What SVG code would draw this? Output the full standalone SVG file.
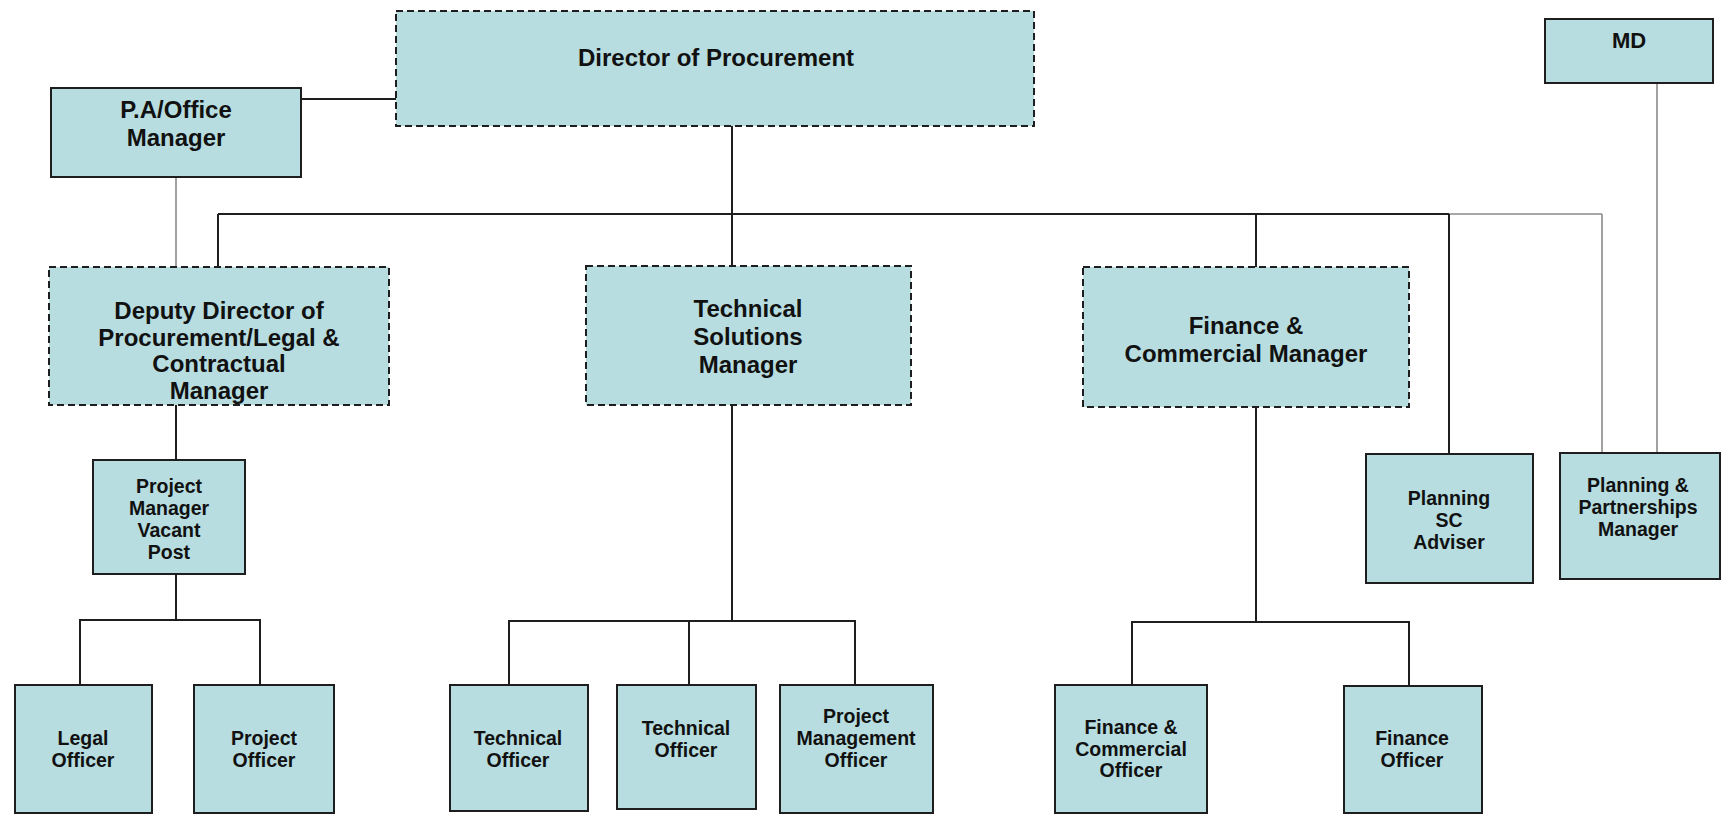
<svg xmlns="http://www.w3.org/2000/svg" width="1727" height="818" viewBox="0 0 1727 818">
<style>
.box{fill:#b7dde0;stroke:#1e1e1e;stroke-width:2}
.dash{stroke-dasharray:7 4}
.ln{stroke:#1e1e1e;stroke-width:2;fill:none}
.gl{stroke:#8a8a8a;stroke-width:1.6;fill:none}
text{font-family:"Liberation Sans",Arial,sans-serif;font-weight:bold;fill:#111;text-anchor:middle}
.big{font-size:24px}
.sm{font-size:19.5px}
</style>
<rect width="1727" height="818" fill="#ffffff"/>
<g id="connectors">
<line class="ln" x1="301" y1="99" x2="396" y2="99"/>
<line class="ln" x1="732" y1="126" x2="732" y2="266"/>
<line class="ln" x1="218" y1="214" x2="1449" y2="214"/>
<line class="gl" x1="1449" y1="214" x2="1602" y2="214"/>
<line class="gl" x1="1602" y1="214" x2="1602" y2="453"/>
<line class="ln" x1="218" y1="214" x2="218" y2="267"/>
<line class="ln" x1="1256" y1="214" x2="1256" y2="267"/>
<line class="ln" x1="1449" y1="214" x2="1449" y2="454"/>
<line class="gl" x1="176" y1="177" x2="176" y2="267"/>
<line class="gl" x1="1657" y1="83" x2="1657" y2="453"/>
<line class="ln" x1="176" y1="405" x2="176" y2="460"/>
<line class="ln" x1="176" y1="574" x2="176" y2="620"/>
<polyline class="ln" points="80,685 80,620 260,620 260,685"/>
<line class="ln" x1="732" y1="405" x2="732" y2="621"/>
<polyline class="ln" points="509,685 509,621 855,621 855,685"/>
<line class="ln" x1="689" y1="621" x2="689" y2="685"/>
<line class="ln" x1="1256" y1="407" x2="1256" y2="622"/>
<polyline class="ln" points="1132,685 1132,622 1409,622 1409,686"/>
</g>
<g id="director">
<rect class="box dash" x="396" y="11" width="638" height="115"/>
<text class="big" x="716" y="66">Director of Procurement</text>
</g>
<g id="md">
<rect class="box" x="1545" y="19" width="168" height="64"/>
<text class="big" x="1629" y="48" style="font-size:22px">MD</text>
</g>
<g id="pa">
<rect class="box" x="51" y="88" width="250" height="89"/>
<text class="big" x="176" y="118">P.A/Office</text>
<text class="big" x="176" y="146">Manager</text>
</g>
<g id="deputy">
<rect class="box dash" x="49" y="267" width="340" height="138"/>
<text class="big" x="219" y="319">Deputy Director of</text>
<text class="big" x="219" y="346">Procurement/Legal &amp;</text>
<text class="big" x="219" y="372">Contractual</text>
<text class="big" x="219" y="399">Manager</text>
</g>
<g id="tech-solutions">
<rect class="box dash" x="586" y="266" width="325" height="139"/>
<text class="big" x="748" y="317">Technical</text>
<text class="big" x="748" y="345">Solutions</text>
<text class="big" x="748" y="373">Manager</text>
</g>
<g id="finance-manager">
<rect class="box dash" x="1083" y="267" width="326" height="140"/>
<text class="big" x="1246" y="334">Finance &amp;</text>
<text class="big" x="1246" y="362">Commercial Manager</text>
</g>
<g id="planning-sc">
<rect class="box" x="1366" y="454" width="167" height="129"/>
<text class="sm" x="1449" y="505">Planning</text>
<text class="sm" x="1449" y="527">SC</text>
<text class="sm" x="1449" y="549">Adviser</text>
</g>
<g id="planning-partnerships">
<rect class="box" x="1560" y="453" width="160" height="126"/>
<text class="sm" x="1638" y="492">Planning &amp;</text>
<text class="sm" x="1638" y="514">Partnerships</text>
<text class="sm" x="1638" y="536">Manager</text>
</g>
<g id="project-manager">
<rect class="box" x="93" y="460" width="152" height="114"/>
<text class="sm" x="169" y="493">Project</text>
<text class="sm" x="169" y="515">Manager</text>
<text class="sm" x="169" y="537">Vacant</text>
<text class="sm" x="169" y="559">Post</text>
</g>
<g id="legal-officer">
<rect class="box" x="15" y="685" width="137" height="128"/>
<text class="sm" x="83" y="745">Legal</text>
<text class="sm" x="83" y="767">Officer</text>
</g>
<g id="project-officer">
<rect class="box" x="194" y="685" width="140" height="128"/>
<text class="sm" x="264" y="745">Project</text>
<text class="sm" x="264" y="767">Officer</text>
</g>
<g id="technical-officer-1">
<rect class="box" x="450" y="685" width="138" height="126"/>
<text class="sm" x="518" y="745">Technical</text>
<text class="sm" x="518" y="767">Officer</text>
</g>
<g id="technical-officer-2">
<rect class="box" x="617" y="685" width="139" height="124"/>
<text class="sm" x="686" y="735">Technical</text>
<text class="sm" x="686" y="757">Officer</text>
</g>
<g id="pm-officer">
<rect class="box" x="780" y="685" width="153" height="128"/>
<text class="sm" x="856" y="723">Project</text>
<text class="sm" x="856" y="745">Management</text>
<text class="sm" x="856" y="767">Officer</text>
</g>
<g id="fc-officer">
<rect class="box" x="1055" y="685" width="152" height="128"/>
<text class="sm" x="1131" y="734">Finance &amp;</text>
<text class="sm" x="1131" y="756">Commercial</text>
<text class="sm" x="1131" y="777">Officer</text>
</g>
<g id="finance-officer">
<rect class="box" x="1344" y="686" width="138" height="127"/>
<text class="sm" x="1412" y="745">Finance</text>
<text class="sm" x="1412" y="767">Officer</text>
</g>
</svg>
